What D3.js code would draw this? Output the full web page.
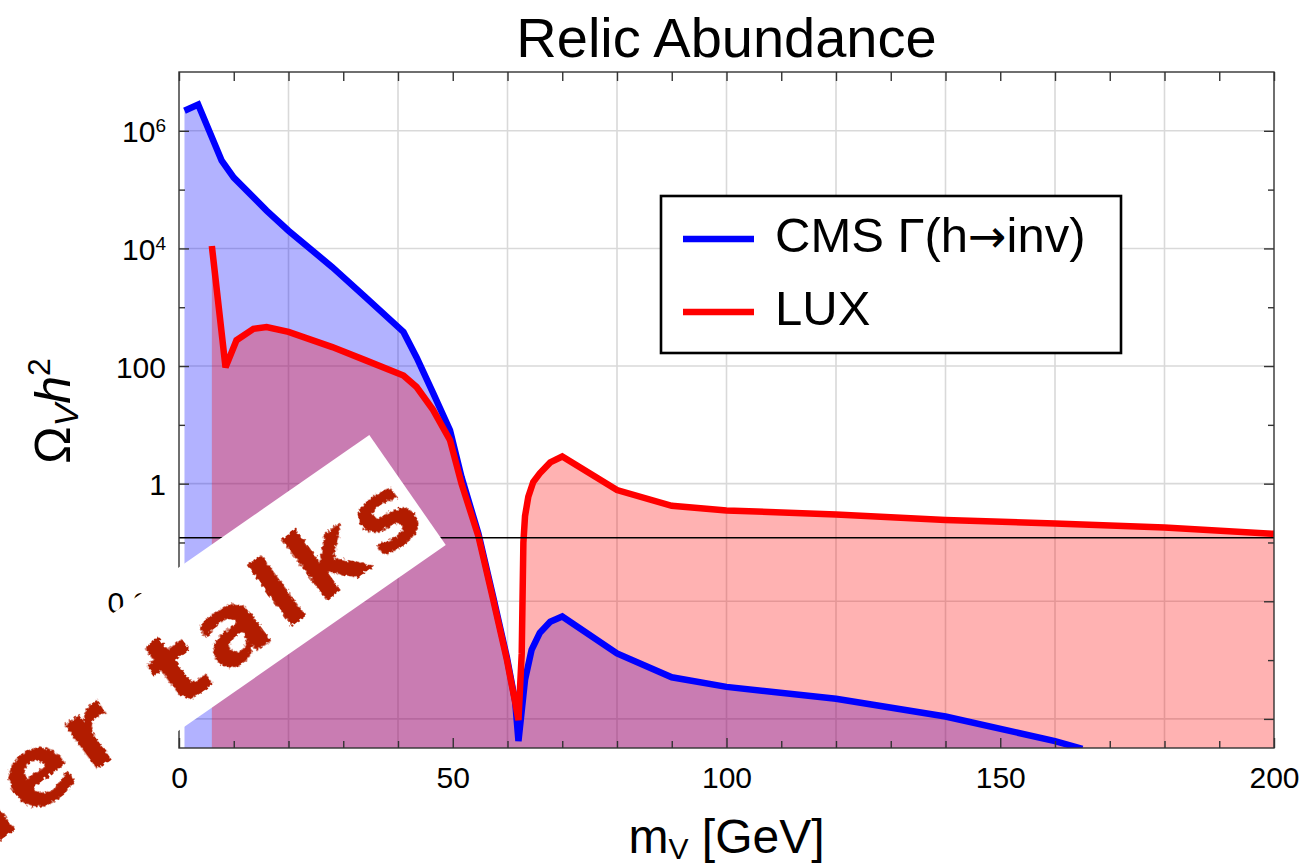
<!DOCTYPE html>
<html><head><meta charset="utf-8">
<script src="https://cdn.jsdelivr.net/npm/d3@7"></script>
<style>
html,body{margin:0;padding:0;background:#fff;}
svg{display:block;font-family:"Liberation Sans",Arial,Helvetica,sans-serif;}
</style>
</head><body>
<svg id="chart" width="1305" height="868"></svg>
<script>
// ---------------- data ----------------
const chartTitle = "Relic Abundance";
const massCMS  = [1, 3.5, 7.8, 10, 16, 20, 28, 34, 41, 43.4, 46.4, 49.5, 51.6, 54.7, 57.4, 59.9, 61.4, 62, 63.2, 64.4, 65.9, 67.8, 70, 80, 90, 100, 120, 140, 160, 165];
const omegaCMS = [2.2e6, 2.8e6, 3.1e5, 1.6e5, 4.4e4, 2.0e4, 4.8e3, 1.5e3, 380, 140, 35, 8.1, 1.3, 0.14, 0.0117, 1.1e-3, 2.0e-4, 4.2e-5, 4.6e-4, 1.5e-3, 2.9e-3, 4.5e-3, 5.5e-3, 1.3e-3, 5.1e-4, 3.5e-4, 2.2e-4, 1.1e-4, 4.2e-5, 3.1e-5];
const massLUX  = [6, 8.5, 10.5, 13.6, 16, 20, 28, 34, 41, 43.4, 46.4, 49.5, 51.6, 54.7, 57.4, 59.9, 61.4, 62, 62.6, 62.9, 63.2, 63.8, 64.7, 65.9, 67.8, 70, 80, 90, 100, 120, 140, 160, 180, 200];
const omegaLUX = [1.1e4, 95, 275, 430, 460, 380, 210, 126, 69, 44, 18, 5.5, 1.0, 0.126, 0.0105, 1.0e-3, 1.9e-4, 9.5e-5, 1.3e-3, 0.1, 0.28, 0.6, 1.07, 1.5, 2.3, 2.9, 0.78, 0.42, 0.35, 0.30, 0.24, 0.21, 0.18, 0.14];
const relicDensity = 0.12;
const seriesNames  = ["CMS \u0393(h\u2192inv)", "LUX"];
const seriesColors = ["#0000FF", "#FF0000"];
const xLabelTicks = [0, 50, 100, 150, 200];
const xMinorTicks = [10, 20, 30, 40, 60, 70, 80, 90, 110, 120, 130, 140, 160, 170, 180, 190];
const xGridValues = [20, 40, 60, 80, 100, 120, 140, 160, 180];
const yLabelTicks = [1e6, 1e4, 100, 1, 0.01, 1e-4];
const yTickBase   = ["10", "10", "100", "1", "0.01", "10"];
const yTickExp    = ["6", "4", "", "", "", "\u22124"];
const yMinorTicks = [1e5, 1e3, 10, 0.1, 1e-3];
const stampWords = ["Other", "talks"];

// ---------------- layout ----------------
const L = 179, R = 1274, T = 72, B = 748;
const svg = d3.select("#chart");
const x = d3.scaleLinear().domain([0, 200]).range([L, R]);
const y = d3.scaleLog().domain([3.2e-5, 1e7]).range([B, T]);

const defs = svg.append("defs");
defs.append("clipPath").attr("id", "plotClip")
  .append("rect").attr("x", L).attr("y", T).attr("width", R - L).attr("height", B - T);
const rough = defs.append("filter").attr("id", "rough")
  .attr("x", "-10%").attr("y", "-10%").attr("width", "120%").attr("height", "120%");
rough.append("feTurbulence").attr("type", "fractalNoise").attr("baseFrequency", 0.35)
  .attr("numOctaves", 2).attr("seed", 3).attr("result", "noise");
rough.append("feDisplacementMap").attr("in", "SourceGraphic").attr("in2", "noise")
  .attr("scale", 6).attr("xChannelSelector", "R").attr("yChannelSelector", "G");

// grid
const grid = svg.append("g");
grid.selectAll("line.gx").data(xGridValues).join("line")
  .attr("x1", d => x(d)).attr("x2", d => x(d)).attr("y1", T).attr("y2", B)
  .attr("stroke", "#d9d9d9").attr("stroke-width", 1.6);
grid.selectAll("line.gy").data(yLabelTicks).join("line")
  .attr("x1", L).attr("x2", R).attr("y1", d => y(d)).attr("y2", d => y(d))
  .attr("stroke", "#d9d9d9").attr("stroke-width", 1.6);

const plot = svg.append("g").attr("clip-path", "url(#plotClip)");
const cms = massCMS.map((m, i) => [m, omegaCMS[i]]);
const lux = massLUX.map((m, i) => [m, omegaLUX[i]]);
const area = d3.area().x(d => x(d[0])).y0(B + 10).y1(d => y(d[1]));
const line = d3.line().x(d => x(d[0])).y(d => y(d[1]));

plot.append("path").attr("d", area(cms)).attr("fill", seriesColors[0]).attr("fill-opacity", 0.3);
plot.append("path").attr("d", area(lux)).attr("fill", seriesColors[1]).attr("fill-opacity", 0.3);
plot.append("path").attr("d", line(cms)).attr("fill", "none").attr("stroke", seriesColors[0])
  .attr("stroke-width", 6.5).attr("stroke-linejoin", "miter");
plot.append("path").attr("d", line(lux)).attr("fill", "none").attr("stroke", seriesColors[1])
  .attr("stroke-width", 6.5).attr("stroke-linejoin", "miter");
plot.append("line").attr("x1", L).attr("x2", R)
  .attr("y1", y(relicDensity)).attr("y2", y(relicDensity))
  .attr("stroke", "#000").attr("stroke-width", 1.5);

// frame
svg.append("rect").attr("x", L).attr("y", T).attr("width", R - L).attr("height", B - T)
  .attr("fill", "none").attr("stroke", "#333").attr("stroke-width", 1.4);

// x ticks (bottom & top, inward)
const xAxisB = d3.axisBottom(x).tickValues(xLabelTicks).tickSizeInner(-10).tickSizeOuter(0).tickPadding(19);
const gxb = svg.append("g").attr("transform", `translate(0,${B})`).call(xAxisB);
gxb.select(".domain").remove();
gxb.selectAll(".tick line").attr("stroke", "#333").attr("stroke-width", 1.4);
gxb.selectAll(".tick text").attr("font-size", 30).attr("fill", "#000")
  .attr("font-family", "Liberation Sans, Arial, sans-serif");
const xMinorB = d3.axisBottom(x).tickValues(xMinorTicks).tickSizeInner(-7).tickSizeOuter(0).tickFormat("");
const gxbm = svg.append("g").attr("transform", `translate(0,${B})`).call(xMinorB);
gxbm.select(".domain").remove();
gxbm.selectAll(".tick line").attr("stroke", "#333").attr("stroke-width", 1.4);
const xAxisT = d3.axisTop(x).tickValues(xLabelTicks.concat(xMinorTicks)).tickSizeInner(-9).tickSizeOuter(0).tickFormat("");
const gxt = svg.append("g").attr("transform", `translate(0,${T})`).call(xAxisT);
gxt.select(".domain").remove();
gxt.selectAll(".tick line").attr("stroke", "#333").attr("stroke-width", 1.4);

// y ticks (left & right, inward)
[[d3.axisLeft, L], [d3.axisRight, R]].forEach(([axisFn, pos]) => {
  const major = axisFn(y).tickValues(yLabelTicks).tickSizeInner(-10).tickSizeOuter(0).tickFormat("");
  const gm = svg.append("g").attr("transform", `translate(${pos},0)`).call(major);
  gm.select(".domain").remove();
  gm.selectAll(".tick line").attr("stroke", "#333").attr("stroke-width", 1.4);
  const minor = axisFn(y).tickValues(yMinorTicks).tickSizeInner(-6).tickSizeOuter(0).tickFormat("");
  const gn = svg.append("g").attr("transform", `translate(${pos},0)`).call(minor);
  gn.select(".domain").remove();
  gn.selectAll(".tick line").attr("stroke", "#333").attr("stroke-width", 1.4);
});

// y tick labels
const yl = svg.append("g");
yLabelTicks.forEach((v, i) => {
  const t = yl.append("text").attr("x", 166).attr("y", y(v) + 11.5)
    .attr("text-anchor", "end").attr("font-size", 30).attr("fill", "#000");
  t.append("tspan").text(yTickBase[i]);
  if (yTickExp[i]) {
    t.append("tspan").attr("font-size", 19).attr("dy", -10).text(yTickExp[i]);
  }
});

// title
svg.append("text").attr("x", (L + R) / 2).attr("y", 57).attr("text-anchor", "middle")
  .attr("font-size", 56).attr("fill", "#000").text(chartTitle);

// x label
const xlab = svg.append("text").attr("x", (L + R) / 2).attr("y", 853).attr("text-anchor", "middle")
  .attr("font-size", 48).attr("fill", "#000");
xlab.append("tspan").text("m");
xlab.append("tspan").attr("font-size", 30).attr("dy", 6).text("V");
xlab.append("tspan").attr("dy", -6).text(" [GeV]");

// y label
const ylab = svg.append("text").attr("transform", "translate(70,411) rotate(-90)")
  .attr("text-anchor", "middle").attr("font-size", 50).attr("fill", "#000");
ylab.append("tspan").text("\u03A9");
ylab.append("tspan").attr("font-size", 34).attr("font-style", "italic").attr("dy", 8).text("V");
ylab.append("tspan").attr("font-style", "italic").attr("dy", -8).text("h");
ylab.append("tspan").attr("font-size", 32).attr("dy", -20).text("2");

// legend
const lg = svg.append("g");
lg.append("rect").attr("x", 661).attr("y", 196).attr("width", 460).attr("height", 157)
  .attr("fill", "#fff").attr("stroke", "#000").attr("stroke-width", 2.6);
const legendY = [239, 312];
seriesNames.forEach((name, i) => {
  lg.append("line").attr("x1", 683).attr("x2", 754).attr("y1", legendY[i]).attr("y2", legendY[i])
    .attr("stroke", seriesColors[i]).attr("stroke-width", 6.7);
  const t = lg.append("text").attr("x", 775).attr("y", legendY[i] + 13).attr("font-size", 49)
    .attr("fill", "#000");
  name.split(/(\u2192)/).forEach(part => {
    const sp = t.append("tspan").text(part);
    if (part === "\u2192") sp.attr("font-family", "DejaVu Sans, sans-serif").attr("font-size", 46);
  });
});

// stamp overlay
const st = svg.append("g").attr("transform", "translate(369.3,435) rotate(-34.8)");
st.append("rect").attr("x", -1000).attr("y", 0).attr("width", 1000).attr("height", 134).attr("fill", "#fff");
const stTxt = st.append("g").attr("transform", "translate(6,108) rotate(-1.5)");
stTxt.append("text").attr("x", 0).attr("y", 0).attr("text-anchor", "end")
  .attr("font-family", "DejaVu Sans, sans-serif").attr("font-weight", "bold")
  .attr("font-size", 100).attr("letter-spacing", 9).attr("fill", "#B21D06")
  .attr("filter", "url(#rough)")
  .selectAll("tspan").data(stampWords).join("tspan")
  .attr("dx", (d, i) => i === 0 ? 0 : 6)
  .text((d, i) => i === 0 ? d + " " : d);
</script>
</body></html>
